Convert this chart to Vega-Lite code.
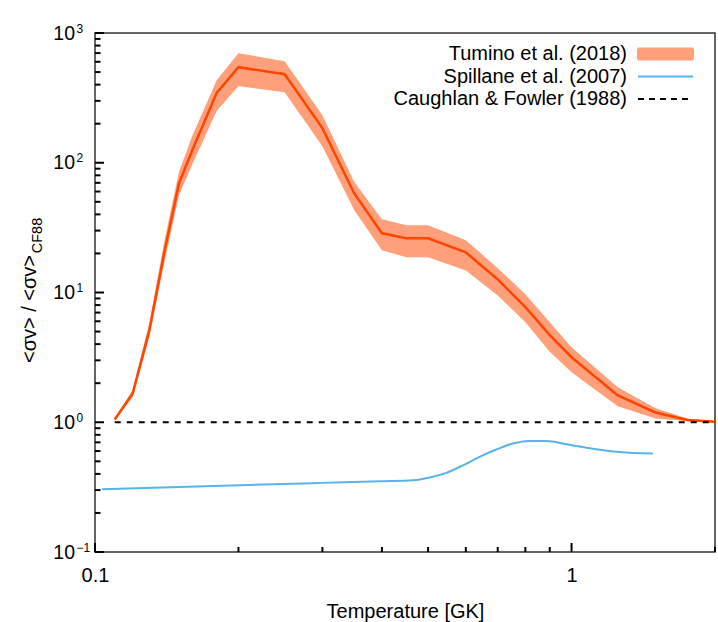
{
  "$schema": "https://vega.github.io/schema/vega-lite/v6.json",
  "width": 620,
  "height": 519,
  "autosize": "none",
  "padding": {"left": 95, "top": 33, "right": 3, "bottom": 70},
  "background": "white",
  "config": {
    "view": {"stroke": "#333333", "strokeWidth": 1.5},
    "font": "Liberation Sans",
    "axis": {"grid": false, "domain": false, "labelFont": "Liberation Sans", "titleFont": "Liberation Sans", "labelColor": "black", "titleColor": "black", "titleFontWeight": "normal", "labelFlush": false, "labelOverlap": false}
  },
  "datasets": {
    "tumino": [
      {"T": 0.11, "mid": 1.05, "lo": 1.03, "hi": 1.07},
      {"T": 0.12, "mid": 1.67, "lo": 1.57, "hi": 1.78},
      {"T": 0.13, "mid": 5.1, "lo": 4.5, "hi": 5.8},
      {"T": 0.14, "mid": 21, "lo": 17.5, "hi": 25.5},
      {"T": 0.15, "mid": 69, "lo": 56, "hi": 85},
      {"T": 0.16, "mid": 125, "lo": 97, "hi": 161},
      {"T": 0.18, "mid": 345, "lo": 250, "hi": 432},
      {"T": 0.2, "mid": 545, "lo": 390, "hi": 698},
      {"T": 0.25, "mid": 481, "lo": 349, "hi": 606},
      {"T": 0.3, "mid": 185, "lo": 134, "hi": 232},
      {"T": 0.35, "mid": 58, "lo": 43, "hi": 71},
      {"T": 0.4, "mid": 28.6, "lo": 21.2, "hi": 36.7},
      {"T": 0.45, "mid": 26.2, "lo": 18.7, "hi": 33},
      {"T": 0.5, "mid": 26.2, "lo": 18.7, "hi": 33},
      {"T": 0.6, "mid": 20.4, "lo": 14.8, "hi": 25.3},
      {"T": 0.7, "mid": 12.6, "lo": 9.5, "hi": 15.4},
      {"T": 0.8, "mid": 7.7, "lo": 5.9, "hi": 9.7},
      {"T": 0.9, "mid": 4.7, "lo": 3.5, "hi": 5.9},
      {"T": 1.0, "mid": 3.17, "lo": 2.43, "hi": 3.79},
      {"T": 1.25, "mid": 1.61, "lo": 1.33, "hi": 1.86},
      {"T": 1.5, "mid": 1.19, "lo": 1.07, "hi": 1.28},
      {"T": 1.75, "mid": 1.04, "lo": 1.02, "hi": 1.07},
      {"T": 2.0, "mid": 1.01, "lo": 1.0, "hi": 1.02}
    ],
    "spillane": [
      {"T": 0.1034, "v": 0.305},
      {"T": 0.201, "v": 0.327},
      {"T": 0.3, "v": 0.341},
      {"T": 0.396, "v": 0.351},
      {"T": 0.465, "v": 0.357},
      {"T": 0.504, "v": 0.375},
      {"T": 0.546, "v": 0.407},
      {"T": 0.592, "v": 0.466},
      {"T": 0.641, "v": 0.541},
      {"T": 0.695, "v": 0.616},
      {"T": 0.753, "v": 0.685},
      {"T": 0.816, "v": 0.716},
      {"T": 0.885, "v": 0.716},
      {"T": 0.975, "v": 0.678},
      {"T": 1.108, "v": 0.625},
      {"T": 1.26, "v": 0.59},
      {"T": 1.481, "v": 0.574}
    ],
    "cf88": [
      {"T": 0.11, "v": 1},
      {"T": 2.0, "v": 1}
    ],
    "xmajor": [{"T": 0.1}, {"T": 1}],
    "xminor": [{"T": 0.2}, {"T": 0.3}, {"T": 0.4}, {"T": 0.5}, {"T": 0.6}, {"T": 0.7}, {"T": 0.8}, {"T": 0.9}, {"T": 2}],
    "ymajor": [{"v": 0.1}, {"v": 1}, {"v": 10}, {"v": 100}, {"v": 1000}],
    "yminor": [{"v": 0.2}, {"v": 0.3}, {"v": 0.4}, {"v": 0.5}, {"v": 0.6}, {"v": 0.7}, {"v": 0.8}, {"v": 0.9}, {"v": 2}, {"v": 3}, {"v": 4}, {"v": 5}, {"v": 6}, {"v": 7}, {"v": 8}, {"v": 9}, {"v": 20}, {"v": 30}, {"v": 40}, {"v": 50}, {"v": 60}, {"v": 70}, {"v": 80}, {"v": 90}, {"v": 200}, {"v": 300}, {"v": 400}, {"v": 500}, {"v": 600}, {"v": 700}, {"v": 800}, {"v": 900}]
  },
  "layer": [
    {
      "data": {"name": "tumino"},
      "mark": {"type": "area", "opacity": 1},
      "encoding": {
        "x": {
          "field": "T", "type": "quantitative",
          "scale": {"type": "log", "domain": [0.1, 2], "nice": false},
          "axis": {"orient": "bottom", "values": [0.1, 1], "ticks": false, "labelExpr": "datum.value < 0.5 ? '0.1' : '1'", "labelFontSize": 20, "labelPadding": 13, "title": "Temperature [GK]", "titleFontSize": 20, "titleY": 65, "titleBaseline": "alphabetic"}
        },
        "y": {
          "field": "lo", "type": "quantitative",
          "scale": {"type": "log", "domain": [0.1, 1000], "nice": false},
          "axis": {"orient": "left", "values": [0.1, 1, 10, 100, 1000], "ticks": false, "labelExpr": "'10'", "labelFontSize": 19.5, "labelPadding": 20.5, "labelAlign": "right", "labelBaseline": "middle", "title": "<σv> / <σv>", "titleFontSize": 20, "titleAngle": 270, "titleX": -59.5, "titleY": 275.5, "titleBaseline": "alphabetic", "titleAlign": "center",
            "encode": {"labels": {"update": {"dx": {"signal": "datum.value < 0.5 ? -6.5 : 0"}}}}}
        },
        "y2": {"field": "hi"},
        "color": {
          "datum": "Tumino et al. (2018)", "type": "nominal",
          "scale": {"domain": ["Tumino et al. (2018)", "Spillane et al. (2007)", "Caughlan & Fowler (1988)"], "range": ["#ffa07a", "#56b4e9", "#000000"]},
          "legend": {
            "orient": "none", "legendX": 560.5, "legendY": 11, "title": null,
            "symbolSize": 100, "symbolStrokeWidth": 2, "symbolOpacity": 1,
            "labelFontSize": 20, "labelFont": "Liberation Sans", "labelColor": "black", "labelAlign": "right", "labelBaseline": "middle", "labelOffset": -48.5, "labelLimit": 400,
            "rowPadding": 2.5, "padding": 0,
            "encode": {"symbols": {"update": {
              "shape": {"signal": "datum.value === 'Tumino et al. (2018)' ? 'M-5.5,-1.1H5.5V1.1H-5.5Z' : 'M-5.5,0H5.5'"},
              "fill": {"signal": "datum.value === 'Tumino et al. (2018)' ? '#ffa07a' : 'transparent'"},
              "stroke": {"signal": "datum.value === 'Tumino et al. (2018)' ? '#b040d8' : datum.value === 'Spillane et al. (2007)' ? '#56b4e9' : '#000000'"},
              "strokeWidth": {"value": 2},
              "strokeOpacity": {"value": 1},
              "opacity": {"value": 1},
              "strokeDash": {"signal": "datum.value === 'Caughlan & Fowler (1988)' ? [6, 5] : [1, 0]"}
            }}}
          }
        }
      }
    },
    {
      "data": {"name": "tumino"},
      "mark": {"type": "line", "color": "#ff4500", "strokeWidth": 2.5},
      "encoding": {
        "x": {"field": "T", "type": "quantitative", "scale": {"type": "log", "domain": [0.1, 2], "nice": false}, "axis": null},
        "y": {
          "field": "mid", "type": "quantitative",
          "scale": {"type": "log", "domain": [0.1, 1000], "nice": false},
          "axis": {"orient": "left", "values": [0.1, 1, 10, 100, 1000], "ticks": false, "labelExpr": "datum.value > 500 ? '3' : datum.value > 50 ? '2' : datum.value > 5 ? '1' : datum.value > 0.5 ? '0' : '−1'", "labelFontSize": 12, "labelAlign": "left", "labelPadding": 19, "labelOffset": -5, "labelBaseline": "middle",
            "title": "CF88", "titleFontSize": 14.5, "titleAngle": 270, "titleX": -53.3, "titleY": 202, "titleBaseline": "alphabetic", "titleAlign": "center",
            "encode": {"labels": {"update": {"dx": {"signal": "datum.value < 0.5 ? -7 : 0"}}}}}
        }
      }
    },
    {
      "data": {"name": "spillane"},
      "mark": {"type": "line", "strokeWidth": 2, "interpolate": "monotone"},
      "encoding": {
        "x": {"field": "T", "type": "quantitative", "scale": {"type": "log", "domain": [0.1, 2], "nice": false}, "axis": null},
        "y": {"field": "v", "type": "quantitative", "scale": {"type": "log", "domain": [0.1, 1000], "nice": false}, "axis": null},
        "color": {"datum": "Spillane et al. (2007)", "type": "nominal"}
      }
    },
    {
      "data": {"name": "cf88"},
      "mark": {"type": "line", "strokeWidth": 2, "strokeDash": [6, 6]},
      "encoding": {
        "x": {"field": "T", "type": "quantitative", "scale": {"type": "log", "domain": [0.1, 2], "nice": false}, "axis": null},
        "y": {"field": "v", "type": "quantitative", "scale": {"type": "log", "domain": [0.1, 1000], "nice": false}, "axis": null},
        "color": {"datum": "Caughlan & Fowler (1988)", "type": "nominal"}
      }
    },
    {
      "data": {"name": "xmajor"},
      "mark": {"type": "tick", "orient": "vertical", "size": 9, "thickness": 2, "color": "#000000", "opacity": 1, "yOffset": -4.5},
      "encoding": {
        "x": {"field": "T", "type": "quantitative", "scale": {"type": "log", "domain": [0.1, 2], "nice": false}, "axis": null},
        "y": {"datum": 0.1, "type": "quantitative", "scale": {"type": "log", "domain": [0.1, 1000], "nice": false}, "axis": null}
      }
    },
    {
      "data": {"name": "xminor"},
      "mark": {"type": "tick", "orient": "vertical", "size": 5, "thickness": 2, "color": "#000000", "opacity": 1, "yOffset": -2.5},
      "encoding": {
        "x": {"field": "T", "type": "quantitative", "scale": {"type": "log", "domain": [0.1, 2], "nice": false}, "axis": null},
        "y": {"datum": 0.1, "type": "quantitative", "scale": {"type": "log", "domain": [0.1, 1000], "nice": false}, "axis": null}
      }
    },
    {
      "data": {"name": "ymajor"},
      "mark": {"type": "tick", "orient": "horizontal", "size": 9, "thickness": 2, "color": "#000000", "opacity": 1, "xOffset": 4.5},
      "encoding": {
        "x": {"datum": 0.1, "type": "quantitative", "scale": {"type": "log", "domain": [0.1, 2], "nice": false}, "axis": null},
        "y": {"field": "v", "type": "quantitative", "scale": {"type": "log", "domain": [0.1, 1000], "nice": false}, "axis": null}
      }
    },
    {
      "data": {"name": "yminor"},
      "mark": {"type": "tick", "orient": "horizontal", "size": 5.5, "thickness": 2, "color": "#000000", "opacity": 1, "xOffset": 2.75},
      "encoding": {
        "x": {"datum": 0.1, "type": "quantitative", "scale": {"type": "log", "domain": [0.1, 2], "nice": false}, "axis": null},
        "y": {"field": "v", "type": "quantitative", "scale": {"type": "log", "domain": [0.1, 1000], "nice": false}, "axis": null}
      }
    }
  ],
  "resolve": {"axis": {"x": "independent", "y": "independent"}}
}
